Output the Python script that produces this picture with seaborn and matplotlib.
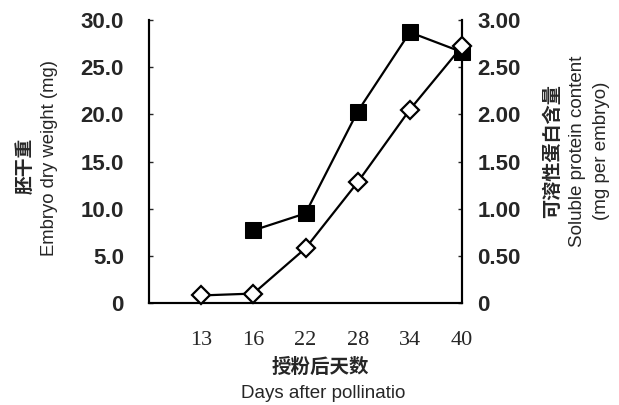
import matplotlib.pyplot as plt
import seaborn as sns
import numpy as np

# data
days = ['13', '16', '22', '28', '34', '40']
weight_days = ['16', '22', '28', '34', '40']
embryo_weight = [7.7, 9.5, 20.3, 28.7, 26.6]
protein_days = ['13', '16', '22', '28', '34', '40']
protein_content = [0.08, 0.10, 0.58, 1.28, 2.05, 2.72]
left_ticks = [0, 5, 10, 15, 20, 25, 30]
left_labels = ['0', '5.0', '10.0', '15.0', '20.0', '25.0', '30.0']
right_ticks = [0, 0.5, 1.0, 1.5, 2.0, 2.5, 3.0]
right_labels = ['0', '0.50', '1.00', '1.50', '2.00', '2.50', '3.00']

sns.set_style('white')
cjk = ['Noto Sans CJK SC', 'DejaVu Sans']
plt.rcParams['font.family'] = ['Liberation Sans', 'DejaVu Sans']

fig = plt.figure(figsize=(6.19, 4.05), dpi=100)
ax = fig.add_axes([149 / 619, 1 - 303 / 405, (462 - 149) / 619, (303 - 20) / 405])
ax2 = ax.twinx()

wx = [days.index(d) for d in weight_days]
px = [days.index(d) for d in protein_days]

sns.lineplot(x=wx, y=embryo_weight, ax=ax, color='black', linewidth=1.6,
             marker='s', markersize=12, markerfacecolor='black',
             markeredgecolor='black', zorder=3, clip_on=False)
sns.lineplot(x=px, y=protein_content, ax=ax2, color='black', linewidth=1.6,
             marker='D', markersize=9, markerfacecolor='white',
             markeredgecolor='black', markeredgewidth=1.6, zorder=3,
             clip_on=False)

ax.set_xlim(-1, 5)
ax.set_ylim(0, 30)
ax2.set_ylim(0, 3.0)

ax.set_xticks(range(len(days)))
ax.set_xticklabels(days, family='Liberation Serif', fontsize=16)
ax.set_yticks(left_ticks)
ax.set_yticklabels(left_labels, fontsize=16, fontweight='bold')
ax2.set_yticks(right_ticks)
ax2.set_yticklabels(right_labels, fontsize=16, fontweight='bold')

ax.tick_params(axis='x', direction='in', length=3, pad=20, width=1)
ax.tick_params(axis='y', direction='in', length=3, pad=18, width=1)
ax2.tick_params(axis='y', direction='in', length=3, pad=11, width=1)

for a in (ax, ax2):
    a.spines['top'].set_visible(False)
    for s in ('left', 'right', 'bottom'):
        a.spines[s].set_color('black')
        a.spines[s].set_linewidth(1.5)
    a.set_xlabel('')
    a.set_ylabel('')

fig.text(320 / 619, 1 - 367 / 405, '授粉后天数', family=cjk, fontsize=14,
         fontweight='bold', ha='center', va='center')
fig.text(323 / 619, 1 - 394 / 405, 'Days after pollinatio', fontsize=13.5,
         ha='center', va='center')

fig.text(25 / 619, 1 - 166 / 405, '胚干重', family=cjk, fontsize=13.5,
         fontweight='bold', rotation=90, ha='center', va='center')
fig.text(50 / 619, 1 - 158 / 405, 'Embryo dry weight (mg)', fontsize=13.3,
         rotation=90, ha='center', va='center')

fig.text(553 / 619, 1 - 151 / 405, '可溶性蛋白含量', family=cjk, fontsize=13.8,
         fontweight='bold', rotation=90, ha='center', va='center')
fig.text(577 / 619, 1 - 151 / 405, 'Soluble protein content', fontsize=13.5,
         rotation=90, ha='center', va='center')
fig.text(602 / 619, 1 - 151 / 405, '(mg per embryo)', fontsize=13.5,
         rotation=90, ha='center', va='center')

fig.savefig('out.png', dpi=100)
